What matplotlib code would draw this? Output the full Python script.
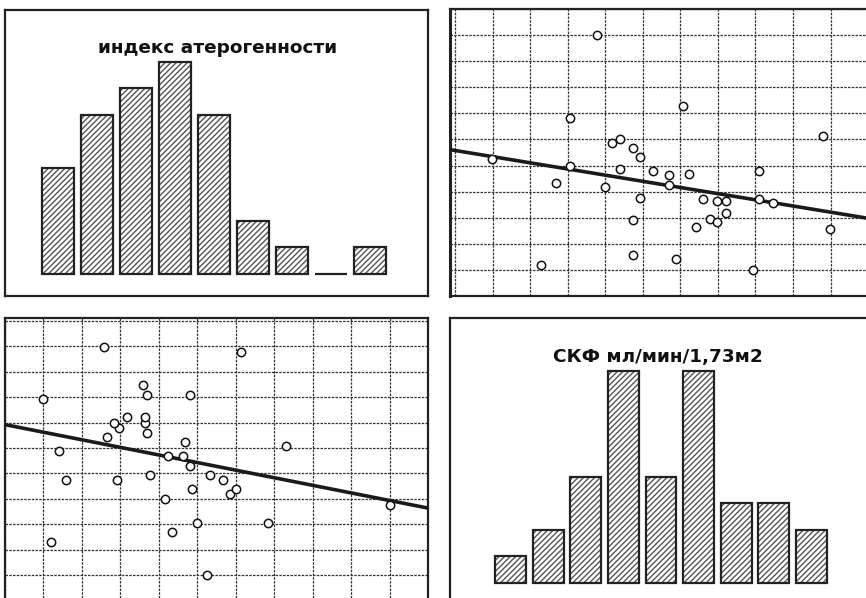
import numpy as np
import matplotlib
matplotlib.use('Agg')
import matplotlib.pyplot as plt

# histogram counts
atero_counts = [4, 6, 7, 8, 6, 2, 1, 0, 1]
gfr_counts = [1, 2, 4, 8, 4, 8, 3, 3, 2]

# scatter points: СКФ (мл/мин/1,73м2) vs индекс атерогенности
gfr = [57.7, 80.6, 50.6, 118.0, 61.9, 63.9, 67.3, 69.2, 29.9, 50.6,
       63.9, 72.8, 76.9, 82.4, 101.0, 46.9, 60.0, 76.9, 69.2, 86.0,
       89.7, 92.1, 101.0, 104.8, 92.1, 87.9, 89.7, 67.3, 84.2, 119.8,
       67.3, 78.8, 42.8, 99.3]
atero = [5.50, 4.15, 3.92, 3.57, 3.43, 3.50, 3.33, 3.17, 3.13, 3.00,
         2.93, 2.90, 2.81, 2.84, 2.90, 2.67, 2.58, 2.62, 2.38, 2.35,
         2.32, 2.32, 2.35, 2.29, 2.09, 1.98, 1.92, 1.95, 1.82, 1.79,
         1.29, 1.20, 1.10, 1.00]

title_atero = 'индекс атерогенности'
title_gfr = 'СКФ мл/мин/1,73м2'

W, H = 866, 598
plt.rcParams['hatch.linewidth'] = 1.0
plt.rcParams['font.family'] = ['DejaVu Sans']

fig = plt.figure(figsize=(W / 100, H / 100), dpi=100)


def add_axes(x0, y0, x1, y1):
    return fig.add_axes([x0 / W, 1 - y1 / H, (x1 - x0) / W, (y1 - y0) / H])


def hist_panel(ax, counts, title, tx, ty):
    pos = np.arange(len(counts))
    ax.bar(pos, counts, width=0.82, color='white', edgecolor='#555555',
           hatch='//////', linewidth=0)
    ax.bar(pos, counts, width=0.82, fill=False, edgecolor='#222222',
           linewidth=1.6)
    ax.text(tx, ty, title, transform=fig.transFigure, ha='center',
            va='center', fontsize=13.3, fontweight='bold', color='#111111')
    ax.set_xticks([])
    ax.set_yticks([])


def scatter_panel(ax, x, y, xgrid, ygrid):
    ax.set_xticks(xgrid)
    ax.set_yticks(ygrid)
    ax.tick_params(length=0, labelbottom=False, labelleft=False)
    ax.grid(True, color='#333333', linewidth=0.9, linestyle=(0, (2, 1)))
    ax.set_axisbelow(True)
    k, b = np.polyfit(x, y, 1)
    xs = np.array(ax.get_xlim())
    ax.plot(xs, k * xs + b, color='#1a1a1a', linewidth=2.6, zorder=3)
    ax.plot(x, y, 'o', markersize=6, markerfacecolor='white',
            markeredgecolor='#111111', markeredgewidth=1.1, zorder=4)


# top left: histogram of индекс атерогенности
ax1 = add_axes(5, 10, 428, 296)
ax1.set_xlim(-1.36, 9.49)
ax1.set_ylim(-0.83, 9.96)
hist_panel(ax1, atero_counts, title_atero, 218 / W, 1 - 48 / H)

# top right: индекс атерогенности vs СКФ
ax2 = add_axes(450, 9, 866, 296)
ax2.set_xlim(18.67, 129.45)
ax2.set_ylim(0.5, 6.0)
scatter_panel(ax2, gfr, atero, np.arange(20, 121, 10), np.arange(0.5, 6.01, 0.5))
ax2.spines['right'].set_visible(False)
ax2.spines['left'].set_linewidth(2.2)

# bottom left: СКФ vs индекс атерогенности
ax3 = add_axes(5, 318, 428, 598)
ax3.set_xlim(0.51, 6.0)
ax3.set_ylim(20.94, 131.2)
scatter_panel(ax3, atero, gfr, np.arange(0.5, 6.01, 0.5), np.arange(30, 131, 10))
ax3.spines['bottom'].set_visible(False)

# bottom right: histogram of СКФ
ax4 = add_axes(450, 318, 866, 598)
ax4.set_xlim(-1.61, 9.45)
ax4.set_ylim(-0.57, 10.0)
hist_panel(ax4, gfr_counts, title_gfr, 658 / W, 1 - 357 / H)
ax4.spines['right'].set_visible(False)
ax4.spines['bottom'].set_visible(False)

for ax in (ax1, ax2, ax3, ax4):
    for s in ax.spines.values():
        s.set_color('#222222')
    ax.spines['top'].set_linewidth(1.6)
for ax in (ax1, ax3, ax4):
    ax.spines['left'].set_linewidth(1.6)
for ax in (ax1, ax2, ax3):
    ax.spines['right'].set_linewidth(1.6)
    ax.spines['bottom'].set_linewidth(1.6)

fig.savefig('out.png', dpi=100)
